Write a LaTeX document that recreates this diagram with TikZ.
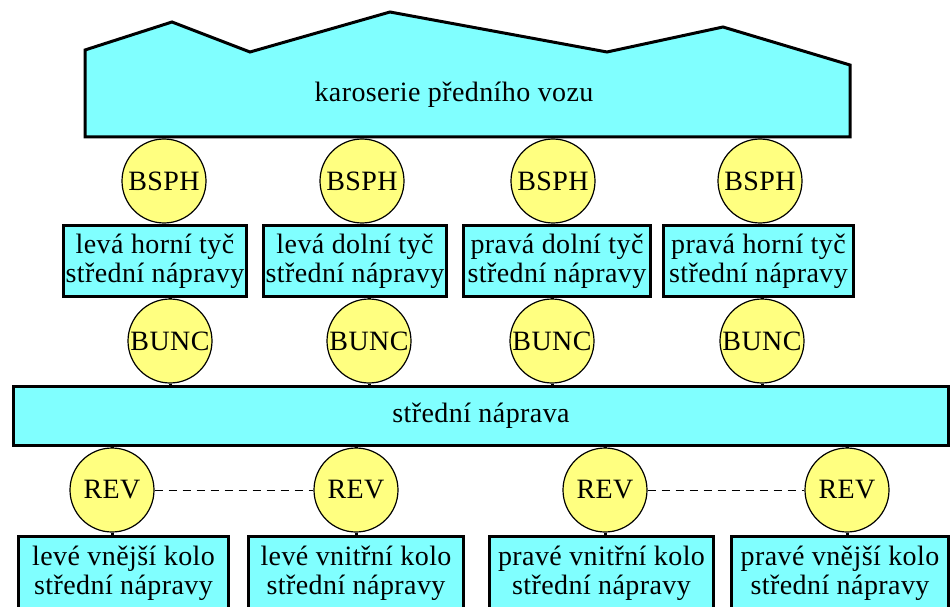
\documentclass[tikz,border=0pt]{standalone}
\usepackage{fontspec}
\setmainfont{Liberation Serif}[LetterSpace=1.5]
\definecolor{partcyan}{HTML}{80FFFF}
\definecolor{jointyellow}{HTML}{FFFF80}
\begin{document}
\begin{tikzpicture}[x=1pt,y=-1pt,
  txt/.style={font=\fontsize{28}{29}\selectfont},
  part/.style={txt, draw=black, line width=3pt, fill=partcyan, inner sep=0pt, align=center},
  joint/.style={txt, circle, draw=black, line width=1.2pt, fill=jointyellow, minimum size=84pt, inner sep=0pt},
  link/.style={line width=3pt},
  loose/.style={dash pattern=on 8pt off 6pt, line width=1pt}]
\useasboundingbox (0,0) rectangle (951,607);
\clip (0,0) rectangle (951,607);

% front body shell
\draw[line width=3pt, fill=partcyan, line join=miter]
  (85,137) -- (85,50) -- (172,22) -- (250,52) -- (390,12) -- (607,52)
  -- (723,27) -- (850,65) -- (850,137) -- cycle;
\node[txt] (body) at (454,95) {karoserie předního vozu};
\coordinate (bodybase) at (454,137);

% spherical joints to the body
\node[joint] (b1) at (164,181) {BSPH};
\node[joint] (b2) at (362,181) {BSPH};
\node[joint] (b3) at (553,181) {BSPH};
\node[joint] (b4) at (760,181) {BSPH};

% rods
\node[part, minimum width=183pt, minimum height=71pt] (t1) at (155,261) {levá horní tyč\\střední nápravy};
\node[part, minimum width=183pt, minimum height=71pt] (t2) at (355,261) {levá dolní tyč\\střední nápravy};
\node[part, minimum width=187pt, minimum height=71pt] (t3) at (557,261) {pravá dolní tyč\\střední nápravy};
\node[part, minimum width=190pt, minimum height=71pt] (t4) at (758.5,261) {pravá horní tyč\\střední nápravy};

% universal joints to the axle
\node[joint] (u1) at (170,341) {BUNC};
\node[joint] (u2) at (369,341) {BUNC};
\node[joint] (u3) at (552,341) {BUNC};
\node[joint] (u4) at (762,341) {BUNC};

% middle axle
\node[part, minimum width=935pt, minimum height=59pt] (axle) at (481,416) {střední náprava};

% revolute joints to the wheels
\node[joint] (r1) at (112,490) {REV};
\node[joint] (r2) at (356,490) {REV};
\node[joint] (r3) at (605,490) {REV};
\node[joint] (r4) at (847,490) {REV};

% wheels
\node[part, minimum width=210pt, minimum height=73pt] (w1) at (123.5,573) {levé vnější kolo\\střední nápravy};
\node[part, minimum width=215pt, minimum height=73pt] (w2) at (356,573) {levé vnitřní kolo\\střední nápravy};
\node[part, minimum width=224pt, minimum height=73pt] (w3) at (601.5,573) {pravé vnitřní kolo\\střední nápravy};
\node[part, minimum width=217pt, minimum height=73pt] (w4) at (840,573) {pravé vnější kolo\\střední nápravy};

% contacts
\foreach \j/\p in {b1/t1,b2/t2,b3/t3,b4/t4}{
  \draw[link] (\j.north) -- (\j.north |- bodybase);
  \draw[link] (\j.south) -- (\j.south |- \p.north);
}
\foreach \j/\p in {u1/t1,u2/t2,u3/t3,u4/t4}{
  \draw[link] (\j.north) -- (\j.north |- \p.south);
  \draw[link] (\j.south) -- (\j.south |- axle.north);
}
\foreach \j/\p in {r1/w1,r2/w2,r3/w3,r4/w4}{
  \draw[link] (\j.north) -- (\j.north |- axle.south);
  \draw[link] (\j.south) -- (\j.south |- \p.north);
}

% wheel pairs
\draw[loose] (r1) -- (r2);
\draw[loose] (r3) -- (r4);
\end{tikzpicture}
\end{document}
